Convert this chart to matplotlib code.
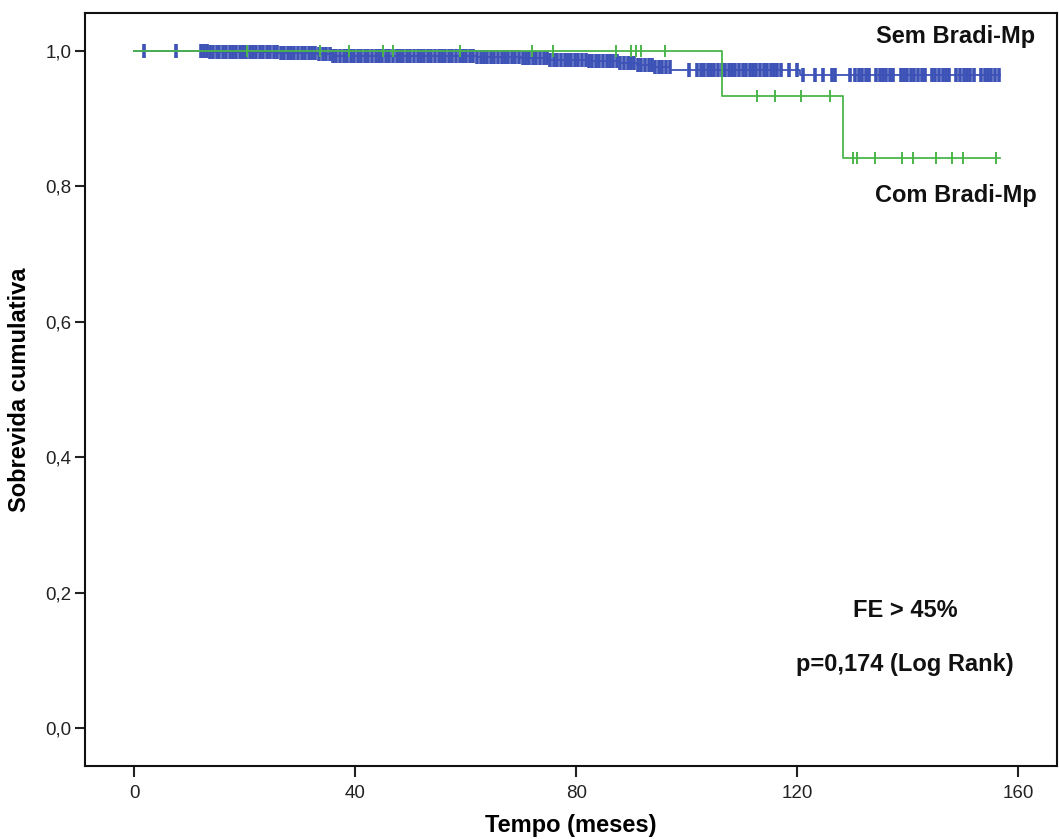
import matplotlib
matplotlib.use("Agg")
import matplotlib.pyplot as plt
import numpy as np

plt.rcParams["font.family"] = ["Liberation Sans", "DejaVu Sans"]

# Kaplan-Meier steps: event times and survival after each event
blue_times = [0.0, 13.5, 19.0, 26.0, 33.0, 36.0, 50.0, 62.0, 70.0, 75.0,
              82.0, 88.0, 91.0, 94.0, 97.0, 120.5]
blue_surv = [1.0, 0.999, 0.998, 0.997, 0.995, 0.993, 0.992, 0.991, 0.989, 0.987,
             0.985, 0.982, 0.979, 0.976, 0.972, 0.965]
blue_end = 156.7

green_times = [0.0, 106.4, 128.3]
green_surv = [1.0, 0.933, 0.842]
green_end = 156.7

# censored observations (months)
blue_censor = [
    1.8, 7.6,
    12.1, 12.6, 13.2, 13.8, 14.3, 14.9, 15.4, 16.0, 16.7, 17.3, 17.8, 18.4, 19.1,
    19.7, 20.2, 20.9, 21.5, 22.1, 22.8, 23.4, 24.0, 24.6, 25.3, 25.9, 26.5, 27.2,
    27.8, 28.3, 29.0, 29.7, 30.3, 30.9, 31.6, 32.2, 32.8, 33.5, 34.1, 34.7, 35.4,
    36.0, 36.6, 37.3, 37.9, 38.5, 39.2, 39.8,
    40.5, 41.1, 41.8, 42.4, 43.0, 43.7, 44.3, 44.9, 45.6, 46.2, 46.8, 47.5, 48.1,
    48.7, 49.4, 50.0, 50.6, 51.3, 51.9, 52.5, 53.2, 53.8, 54.4, 55.1, 55.7, 56.3,
    57.0, 57.6, 58.2, 58.9, 59.5, 60.1, 60.8, 61.4, 62.0, 62.7, 63.3, 63.9, 64.6,
    65.2, 65.8, 66.5, 67.1, 67.7, 68.4, 69.0, 69.6, 70.3, 70.9, 71.5, 72.2, 72.8,
    73.4, 74.1, 74.7, 75.3, 76.0, 76.6, 77.2, 77.9, 78.5, 79.1, 79.8, 80.4, 81.0,
    81.7, 82.3, 82.9, 83.6, 84.2, 84.8, 85.5, 86.1, 86.7, 87.4, 88.0, 88.6, 89.3,
    89.9, 90.5, 91.2, 91.8, 92.4, 93.1, 93.7, 94.3, 95.0, 95.6, 96.2, 96.9,
    100.5, 101.8, 102.5, 103.1, 103.8, 104.4, 105.0, 105.7, 106.3, 106.9, 107.6,
    108.2, 108.8, 109.5, 110.1, 110.7, 111.4, 112.0, 112.6, 113.3, 113.9, 114.5,
    115.2, 115.8, 116.4, 117.1, 118.5, 120.0,
    121.0, 123.3, 124.7, 126.3, 126.9, 129.6, 130.5, 131.1, 131.8, 132.4, 133.0,
    134.2, 134.9, 135.5, 136.1, 136.8, 137.4, 138.7, 139.3, 139.9, 140.6, 141.2,
    141.8, 142.5, 143.1, 144.4, 145.0, 145.6, 146.3, 146.9, 147.5, 148.8, 149.4,
    150.1, 150.7, 151.3, 152.0, 153.2, 153.9, 154.5, 155.1, 155.8, 156.5,
]
green_censor = [20.4, 33.7, 38.9, 45.0, 46.9, 59.0, 72.0, 75.8, 87.2, 90.0, 90.8,
                91.8, 96.1, 112.8, 116.0, 120.7, 126.0, 130.1, 130.9, 134.0, 139.0,
                141.0, 145.2, 148.0, 150.0, 156.0]

x_ticks = [0, 40, 80, 120, 160]
y_ticks = [0.0, 0.2, 0.4, 0.6, 0.8, 1.0]
y_labels = ["0,0", "0,2", "0,4", "0,6", "0,8", "1,0"]

BLUE = "#3d52b6"
GREEN = "#4ab54a"


def step_at(times, surv, t):
    idx = np.searchsorted(times, t, side="right") - 1
    return np.asarray(surv)[idx]


def draw_km(ax, times, surv, end, censor, color, ms, mew):
    xs = list(times) + [end]
    ys = list(surv) + [surv[-1]]
    ax.step(xs, ys, where="post", color=color, lw=1.3)
    cy = step_at(times, surv, np.asarray(censor))
    ax.plot(censor, cy, ls="none", marker="|", ms=ms, mew=mew, color=color)


fig = plt.figure(figsize=(10.59, 8.39), dpi=100)
ax = fig.add_axes([0.0803, 0.087, 0.9177, 0.8975])

draw_km(ax, blue_times, blue_surv, blue_end, blue_censor, BLUE, 10, 2.6)
draw_km(ax, green_times, green_surv, green_end, green_censor, GREEN, 9, 1.4)

ax.set_xlim(-8.9, 167)
ax.set_ylim(-0.056, 1.056)
ax.set_xticks(x_ticks)
ax.set_yticks(y_ticks)
ax.set_yticklabels(y_labels)
ax.tick_params(axis="both", direction="out", labelsize=13.5, colors="#222222",
               width=1.5)
ax.tick_params(axis="x", length=8, pad=6)
ax.tick_params(axis="y", length=7, pad=3)
for sp in ax.spines.values():
    sp.set_linewidth(1.5)
    sp.set_color("#111111")

ax.set_xlabel("Tempo (meses)", fontsize=17, fontweight="bold", labelpad=8)
ax.set_ylabel("Sobrevida cumulativa", fontsize=17, fontweight="bold", labelpad=10)

txt = dict(fontsize=17, fontweight="bold", ha="center", va="center", color="#111111")
ax.text(148.6, 1.021, "Sem Bradi-Mp", **txt)
ax.text(148.8, 0.786, "Com Bradi-Mp", **txt)
ax.text(139.5, 0.174, "FE > 45%", **txt)
ax.text(139.4, 0.0945, "p=0,174 (Log Rank)", **txt)

fig.savefig("out.png", dpi=100)
